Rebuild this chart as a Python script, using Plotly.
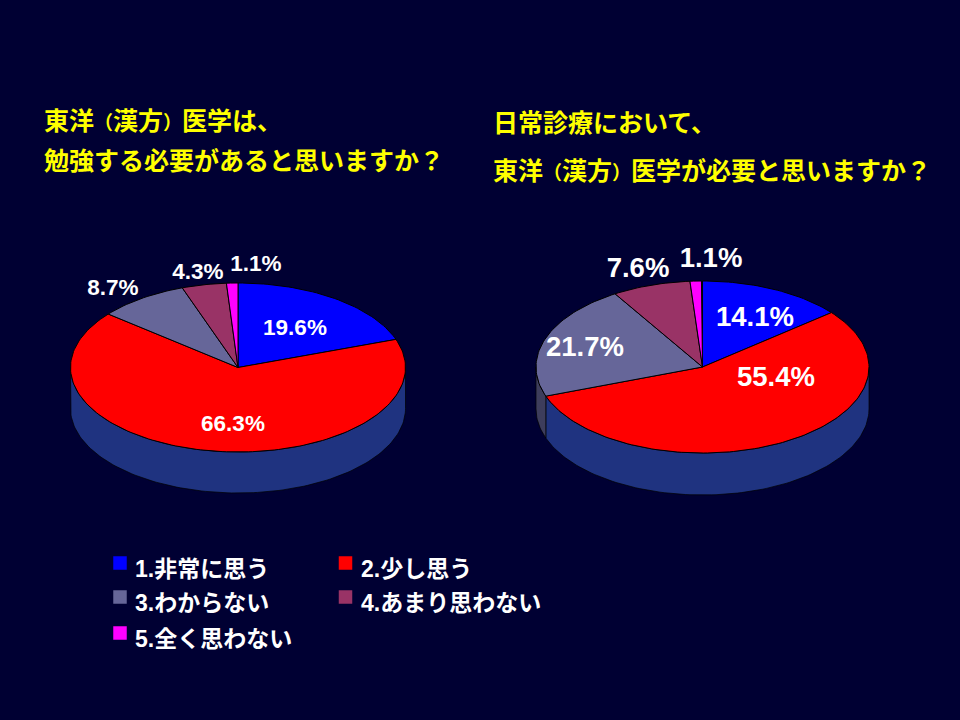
import math
import plotly.graph_objects as go

# ---- data ----
categories = ["1.非常に思う", "2.少し思う", "3.わからない", "4.あまり思わない", "5.全く思わない"]
values_left = [19.6, 66.3, 8.7, 4.3, 1.1]
values_right = [14.1, 55.4, 21.7, 7.6, 1.1]
title_left = ["東洋（漢方）医学は、", "勉強する必要があると思いますか？"]
title_right = ["日常診療において、", "東洋（漢方）医学が必要と思いますか？"]

# ---- styles and layout ----
BG = "#000033"
COLORS = ["#0000FF", "#FF0000", "#666699", "#993366", "#FF00FF"]
WALLS = ["#000080", "#1F3380", "#3D3D5C", "#5C1F3D", "#800080"]
FONT = "Liberation Sans, Noto Sans CJK JP, sans-serif"

PIES = [
    dict(values=values_left, cx=238, cy=367.5, rx=167.5, ry=84.5, depth=41,
         lx=[295, 233, 113, 198, 256], ly=[329.5, 425.5, 289.5, 273.5, 265.5],
         font=FONT, size=22.5),
    dict(values=values_right, cx=702.5, cy=367, rx=166.5, ry=86, depth=42,
         lx=[755, 776, 585, 638, 711], ly=[319.5, 379.5, 349.5, 270.5, 260.5],
         font=FONT, size=27.5),
]
TITLE_POS = [(41.5, 121, title_left[0]), (41.5, 161, title_left[1]),
             (490.5, 123, title_right[0]), (490.5, 171, title_right[1])]
LEG_X = [120, 345.5, 120, 345.5, 120]
LEG_Y = [563, 563, 597, 597, 633]
LEG_DX, LEG_DY = 13, 6


def narrow_parens(t):
    s = '<span style="font-size:19px">%s</span>'
    return t.replace("（", s % "（").replace("）", s % "）")


def arc(p, a0, a1, dy=0):
    n = max(2, int(abs(a1 - a0) / 1.5) + 2)
    pts = [a0 + (a1 - a0) * i / (n - 1) for i in range(n)]
    return ([p["cx"] + p["rx"] * math.sin(math.radians(a)) for a in pts],
            [p["cy"] - p["ry"] * math.cos(math.radians(a)) + dy for a in pts])


fig = go.Figure()

for p in PIES:
    cum = 0
    spans = []
    for v in p["values"]:
        spans.append((cum * 3.6, (cum + v) * 3.6))
        cum += v
    # side wall: only the front half (90..270 degrees) is visible
    for (a0, a1), wall in zip(spans, WALLS):
        s, e = max(a0, 90), min(a1, 270)
        if e <= s:
            continue
        xt, yt = arc(p, s, e)
        xb, yb = arc(p, e, s, p["depth"])
        fig.add_trace(go.Scatter(x=xt + xb + xt[:1], y=yt + yb + yt[:1], mode="lines",
                                 fill="toself", fillcolor=wall,
                                 line=dict(color="#000000", width=0.7), hoverinfo="skip"))
    # top face
    for (a0, a1), col, name in zip(spans, COLORS, categories):
        xs, ys = arc(p, a0, a1)
        fig.add_trace(go.Scatter(x=[p["cx"]] + xs + [p["cx"]], y=[p["cy"]] + ys + [p["cy"]],
                                 mode="lines", fill="toself", fillcolor=col, name=name,
                                 line=dict(color="#000000", width=1)))
    # value labels
    fig.add_trace(go.Scatter(x=p["lx"], y=p["ly"], mode="text",
                             text=[f"{v:.1f}%" for v in p["values"]],
                             textposition="middle center", hoverinfo="skip",
                             textfont=dict(family=p["font"], size=p["size"], color="#FFFFFF", weight="bold")))

# legend swatches
for x, y, col, name in zip(LEG_X, LEG_Y, COLORS, categories):
    fig.add_trace(go.Scatter(x=[x], y=[y], mode="markers", name=name,
                             marker=dict(symbol="square", size=13.5, color=col, line=dict(width=0))))

annotations = []
for x, y, col, name in zip(LEG_X, LEG_Y, COLORS, categories):
    annotations.append(dict(x=x + LEG_DX, y=y + LEG_DY, text=name, xref="x", yref="y",
                            xanchor="left", yanchor="middle", showarrow=False,
                            font=dict(family=FONT, size=23, color="#FFFFFF", weight="bold")))
for x, y, t in TITLE_POS:
    annotations.append(dict(x=x, y=y, text=narrow_parens(t), xref="x", yref="y",
                            xanchor="left", yanchor="middle", showarrow=False,
                            font=dict(family=FONT, size=25, color="#FFFF00", weight="bold")))

fig.update_layout(
    width=960, height=720, margin=dict(l=0, r=0, t=0, b=0),
    paper_bgcolor=BG, plot_bgcolor=BG, showlegend=False,
    xaxis=dict(range=[0, 960], visible=False, fixedrange=True),
    yaxis=dict(range=[720, 0], visible=False, fixedrange=True),
    annotations=annotations,
)
fig.write_html("out.html", config=dict(displayModeBar=False, responsive=False),
               post_script=f"document.body.style.margin='0';document.body.style.background='{BG}';"
                           "document.documentElement.style.background='" + BG + "';")
